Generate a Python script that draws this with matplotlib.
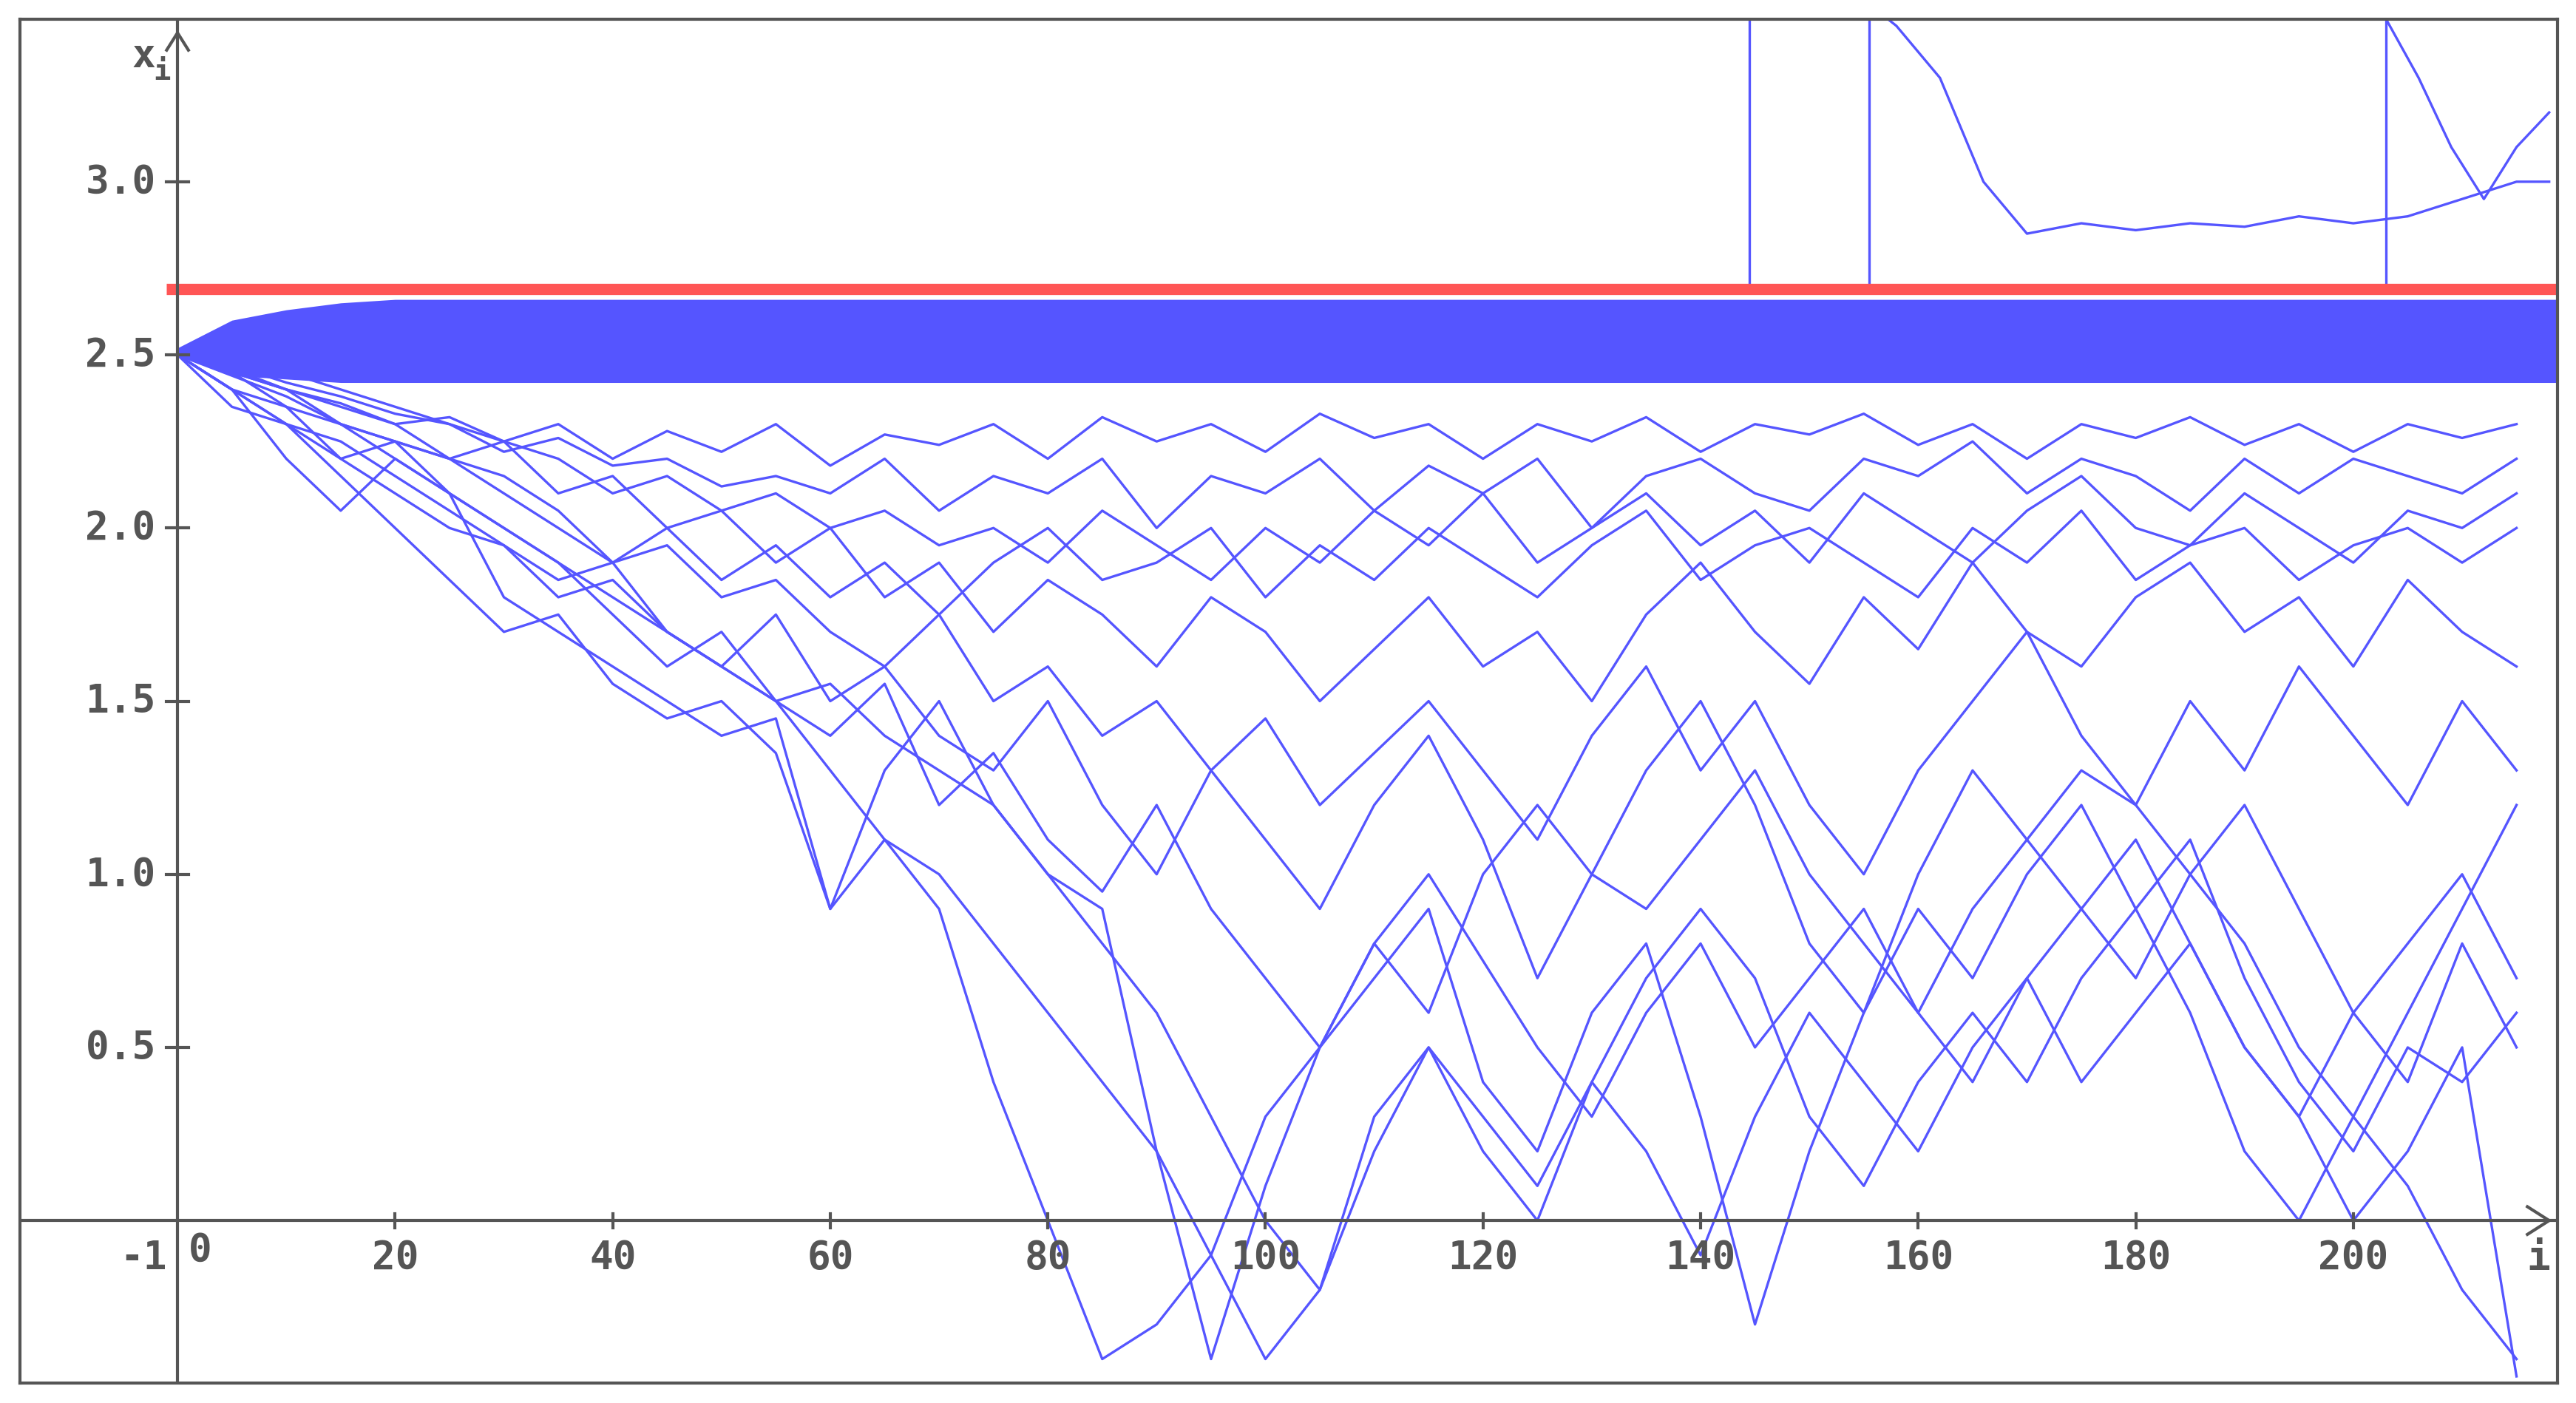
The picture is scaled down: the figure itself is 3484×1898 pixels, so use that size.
import matplotlib
matplotlib.use("Agg")
import matplotlib.pyplot as plt
import numpy as np

I = list(range(0, 220, 5))
s1 = [2.5,2.35,2.3,2.2,2.25,2.1,2.0,1.9,1.75,1.6,1.7,1.5,1.3,1.1,0.9,0.4,0.0,-0.4,-0.3,-0.1,0.3,0.5,0.8,0.6,1.0,1.2,1.0,0.9,1.1,1.3,1.0,0.8,0.6,0.9,1.1,1.3,1.2,1.0,0.8,0.5,0.3,0.1,-0.2,-0.4]
s2 = [2.5,2.4,2.2,2.05,2.2,2.1,1.8,1.7,1.6,1.5,1.4,1.45,0.9,1.3,1.5,1.2,1.0,0.9,0.2,-0.4,0.1,0.5,0.7,0.9,0.4,0.2,0.6,0.8,0.3,-0.3,0.2,0.6,0.9,0.7,1.0,1.2,0.9,0.6,0.2,0.0,0.3,0.6,0.9,1.2]
s3 = [2.5,2.45,2.35,2.3,2.2,2.1,2.0,1.9,1.8,1.7,1.6,1.5,1.55,1.4,1.3,1.2,1.0,0.8,0.6,0.3,0.0,-0.2,0.3,0.5,0.2,0.0,0.4,0.7,0.9,0.7,0.3,0.1,0.4,0.6,0.4,0.7,0.9,1.1,0.7,0.4,0.2,0.5,0.4,0.6]
s4 = [2.5,2.4,2.35,2.2,2.1,2.0,1.95,1.8,1.85,1.7,1.6,1.75,1.5,1.6,1.4,1.3,1.5,1.2,1.0,1.3,1.1,0.9,1.2,1.4,1.1,0.7,1.0,1.3,1.5,1.2,0.8,0.6,1.0,1.3,1.1,0.9,0.7,1.0,1.2,0.9,0.6,0.8,1.0,0.7]
s5 = [2.5,2.45,2.4,2.3,2.25,2.2,2.1,2.0,1.9,1.95,1.8,1.85,1.7,1.6,1.75,1.5,1.6,1.4,1.5,1.3,1.45,1.2,1.35,1.5,1.3,1.1,1.4,1.6,1.3,1.5,1.2,1.0,1.3,1.5,1.7,1.4,1.2,1.5,1.3,1.6,1.4,1.2,1.5,1.3]
s6 = [2.5,2.45,2.4,2.35,2.3,2.2,2.25,2.1,2.15,2.0,2.05,1.9,2.0,1.8,1.9,1.7,1.85,1.75,1.6,1.8,1.7,1.5,1.65,1.8,1.6,1.7,1.5,1.75,1.9,1.7,1.55,1.8,1.65,1.9,1.7,1.6,1.8,1.9,1.7,1.8,1.6,1.85,1.7,1.6]
s7 = [2.5,2.48,2.45,2.4,2.35,2.3,2.25,2.2,2.1,2.15,2.05,2.1,2.0,2.05,1.95,2.0,1.9,2.05,1.95,1.85,2.0,1.9,2.05,1.95,2.1,1.9,2.0,2.1,1.95,2.05,1.9,2.1,2.0,1.9,2.05,2.15,2.0,1.95,2.1,2.0,1.9,2.05,2.0,2.1]
s8 = [2.5,2.4,2.3,2.15,2.0,1.85,1.7,1.75,1.55,1.45,1.5,1.35,0.9,1.1,1.0,0.8,0.6,0.4,0.2,-0.1,-0.4,-0.2,0.2,0.5,0.3,0.1,0.4,0.2,-0.1,0.3,0.6,0.4,0.2,0.5,0.7,0.4,0.6,0.8,0.5,0.3,0.0,0.2,0.5,-0.45]
s9 = [2.5,2.47,2.42,2.38,2.33,2.3,2.22,2.26,2.18,2.2,2.12,2.15,2.1,2.2,2.05,2.15,2.1,2.2,2.0,2.15,2.1,2.2,2.05,2.18,2.1,2.2,2.0,2.15,2.2,2.1,2.05,2.2,2.15,2.25,2.1,2.2,2.15,2.05,2.2,2.1,2.2,2.15,2.1,2.2]
s10 = [2.5,2.4,2.3,2.25,2.15,2.05,1.95,1.85,1.9,1.7,1.6,1.5,1.4,1.55,1.2,1.35,1.1,0.95,1.2,0.9,0.7,0.5,0.8,1.0,0.75,0.5,0.3,0.6,0.8,0.5,0.7,0.9,0.6,0.4,0.7,0.9,1.1,0.8,0.5,0.3,0.6,0.4,0.8,0.5]
s11 = [2.5,2.46,2.4,2.36,2.3,2.32,2.25,2.3,2.2,2.28,2.22,2.3,2.18,2.27,2.24,2.3,2.2,2.32,2.25,2.3,2.22,2.33,2.26,2.3,2.2,2.3,2.25,2.32,2.22,2.3,2.27,2.33,2.24,2.3,2.2,2.3,2.26,2.32,2.24,2.3,2.22,2.3,2.26,2.3]
s12 = [2.5,2.44,2.38,2.3,2.25,2.2,2.15,2.05,1.9,2.0,1.85,1.95,1.8,1.9,1.75,1.9,2.0,1.85,1.9,2.0,1.8,1.95,1.85,2.0,1.9,1.8,1.95,2.05,1.85,1.95,2.0,1.9,1.8,2.0,1.9,2.05,1.85,1.95,2.0,1.85,1.95,2.0,1.9,2.0]
series = [s1, s2, s3, s4, s5, s6, s7, s8, s9, s10, s11, s12]

band_i = [0,5,10,15,20,30,60,100,150,200,218.8]
band_top = [2.52,2.6,2.63,2.65,2.66,2.66,2.66,2.66,2.66,2.66,2.66]
band_bot = [2.5,2.44,2.43,2.42,2.42,2.42,2.42,2.42,2.42,2.42,2.42]

up1_i = [156,158,162,166,170,175,180,185,190,195,200,205,210,215,218]
up1_x = [3.5,3.45,3.3,3.0,2.85,2.88,2.86,2.88,2.87,2.9,2.88,2.9,2.95,3.0,3.0]
up2_i = [203,206,209,212,215,218]
up2_x = [3.47,3.3,3.1,2.95,3.1,3.2]
vlines_i = [144.5, 155.5, 203]
red_level = 2.69

xticks = [20,40,60,80,100,120,140,160,180,200]
yticks = [0.5,1.0,1.5,2.0,2.5,3.0]

blue = "#5555ff"; grey = "#555555"
fig = plt.figure(figsize=(34.84,18.99), dpi=100)
ax = fig.add_axes([12/1563, 1-843/855, 1540/1563, 831/855])
ax.set_xlim(-14.5, 218.8); ax.set_ylim(-0.47, 3.47)
ax.set_xticks([]); ax.set_yticks([])
for sp in ax.spines.values():
    sp.set_color(grey); sp.set_linewidth(3)

ax.fill_between(band_i, band_bot, band_top, color=blue, lw=0)
for s in series:
    ax.plot(I, s, color=blue, lw=2.4)
ax.plot(up1_i, up1_x, color=blue, lw=2.4)
ax.plot(up2_i, up2_x, color=blue, lw=2.4)
for v in vlines_i:
    ax.plot([v, v], [red_level, 3.47], color=blue, lw=2.4)
ax.plot([-1, 218.8], [red_level, red_level], color="#ff5555", lw=11, solid_capstyle="butt")

ax.axhline(0, color=grey, lw=3); ax.axvline(0, color=grey, lw=3)
fp = dict(family="DejaVu Sans Mono", weight="bold", size=38, color=grey)
for t in xticks:
    ax.plot([t,t],[-0.02,0.02], color=grey, lw=3)
    ax.text(t, -0.05, str(t), ha="center", va="top", **fp)
for t in yticks:
    ax.plot([-1,1],[t,t], color=grey, lw=3)
    ax.text(-2, t, f"{t:.1f}", ha="right", va="center", **fp)
ax.text(-1, -0.05, "-1", ha="right", va="top", **fp)
ax.text(1, -0.03, "0", ha="left", va="top", **fp)
ax.text(217, -0.05, "i", ha="center", va="top", **fp)
ax.text(-2, 3.42, "x", ha="right", va="top", **fp)
ax.text(-2.2, 3.36, "i", ha="left", va="top", family="DejaVu Sans Mono", weight="bold", size=28, color=grey)
ax.plot([-1,0,1],[3.38,3.43,3.38], color=grey, lw=3)
ax.plot([216,218,216],[0.04,0,-0.04], color=grey, lw=3)
fig.savefig("out.png")
